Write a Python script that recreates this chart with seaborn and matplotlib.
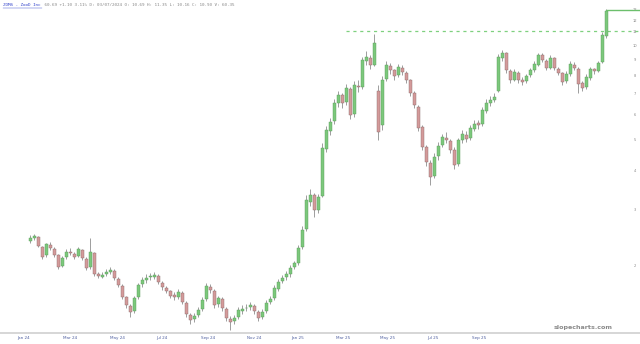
import numpy as np
import pandas as pd
import seaborn as sns
import matplotlib
matplotlib.use("Agg")
import matplotlib.pyplot as plt
from matplotlib.transforms import blended_transform_factory

# ---------------- data ----------------
opens = [2.40,2.45,2.47,2.30,2.16,2.33,2.27,2.16,2.00,2.13,
         2.22,2.19,2.15,2.25,2.11,1.98,2.20,1.88,1.85,1.88,
         1.91,1.93,1.82,1.73,1.59,1.49,1.44,1.59,1.75,1.80,
         1.84,1.85,1.86,1.77,1.70,1.66,1.62,1.59,1.64,1.53,
         1.40,1.36,1.40,1.46,1.57,1.72,1.67,1.51,1.57,1.46,
         1.36,1.34,1.38,1.44,1.47,1.48,1.49,1.43,1.38,1.44,
         1.54,1.58,1.69,1.79,1.84,1.88,1.98,2.05,2.30,2.62,
         3.20,3.35,3.02,3.33,4.70,5.35,5.75,6.55,6.95,6.60,
         7.30,6.05,7.45,7.40,8.95,9.15,8.70,7.20,5.60,7.85,
         8.60,8.35,8.05,8.50,8.20,7.75,7.05,6.40,5.50,4.75,
         4.25,3.85,4.45,4.82,5.10,4.98,4.65,4.20,5.00,5.22,
         5.08,5.45,5.66,5.62,6.22,6.55,6.70,7.20,9.10,9.45,
         8.30,7.80,8.20,7.80,7.70,8.05,8.35,8.70,9.30,8.95,
         8.50,9.10,8.45,8.18,7.70,8.10,8.70,8.45,7.60,7.38,
         7.90,8.40,8.32,8.85,10.7]
closes = [2.45,2.48,2.32,2.14,2.34,2.28,2.17,1.99,2.12,2.21,
          2.20,2.14,2.26,2.12,1.97,2.21,1.89,1.86,1.87,1.92,
          1.94,1.83,1.74,1.60,1.50,1.43,1.58,1.74,1.81,1.83,
          1.86,1.87,1.78,1.71,1.67,1.61,1.60,1.65,1.54,1.41,
          1.35,1.39,1.45,1.56,1.73,1.68,1.50,1.58,1.47,1.37,
          1.33,1.37,1.45,1.46,1.47,1.50,1.44,1.37,1.43,1.53,
          1.57,1.70,1.78,1.83,1.89,1.97,2.04,2.28,2.60,3.24,
          3.36,3.01,3.31,4.74,5.40,5.72,6.58,6.97,6.58,7.34,
          6.02,7.50,7.39,9.00,9.17,8.67,10.2,5.30,7.80,8.67,
          8.36,8.00,8.55,8.25,7.78,7.06,6.48,5.48,4.77,4.27,
          3.82,4.44,4.80,5.12,5.02,4.66,4.18,5.02,5.24,5.05,
          5.48,5.64,5.60,6.25,6.58,6.72,6.85,9.17,9.50,8.36,
          7.78,8.25,7.78,7.67,8.00,8.36,8.74,9.33,9.00,8.48,
          9.12,8.48,8.20,7.67,8.12,8.74,8.48,7.56,7.34,7.96,
          8.42,8.30,8.80,10.8,12.9]
highs = [2.50,2.53,2.49,2.32,2.37,2.38,2.30,2.18,2.15,2.26,
         2.28,2.22,2.30,2.27,2.13,2.45,2.22,1.92,1.91,1.96,
         1.99,1.95,1.84,1.75,1.61,1.51,1.61,1.77,1.85,1.88,
         1.90,1.92,1.88,1.79,1.73,1.68,1.65,1.69,1.66,1.55,
         1.42,1.42,1.48,1.59,1.76,1.75,1.69,1.61,1.59,1.48,
         1.39,1.40,1.48,1.50,1.51,1.54,1.52,1.45,1.46,1.56,
         1.61,1.74,1.82,1.87,1.93,2.01,2.08,2.33,2.68,3.35,
         3.50,3.40,3.38,4.90,5.55,5.90,6.75,7.20,7.05,7.55,
         7.40,7.70,7.80,9.20,9.60,9.30,10.9,7.50,8.00,8.90,
         8.80,8.45,8.75,8.65,8.30,7.85,7.15,6.50,5.60,4.85,
         4.35,4.55,4.95,5.25,5.30,5.05,4.75,5.10,5.40,5.35,
         5.60,5.80,5.80,6.40,6.75,6.90,7.05,9.40,9.70,9.55,
         8.45,8.40,8.30,7.95,8.15,8.50,8.90,9.50,9.45,9.05,
         9.30,9.20,8.55,8.25,8.30,8.90,8.85,8.55,7.70,8.10,
         8.55,8.50,8.95,11.0,13.1]
lows = [2.37,2.42,2.29,2.10,2.13,2.25,2.14,1.96,1.98,2.10,
        2.16,2.10,2.13,2.09,1.94,1.96,1.86,1.83,1.83,1.86,
        1.89,1.81,1.71,1.57,1.47,1.38,1.42,1.57,1.72,1.77,
        1.81,1.82,1.75,1.68,1.64,1.58,1.56,1.57,1.51,1.38,
        1.31,1.33,1.38,1.44,1.55,1.64,1.47,1.48,1.44,1.34,
        1.25,1.31,1.36,1.41,1.44,1.45,1.41,1.34,1.36,1.42,
        1.51,1.56,1.66,1.76,1.81,1.85,1.95,2.02,2.26,2.58,
        3.10,2.85,2.95,3.30,4.60,5.20,5.65,6.40,6.35,6.50,
        5.85,5.95,7.10,7.30,8.70,8.40,8.60,5.00,5.40,7.70,
        8.10,7.80,7.95,8.05,7.60,6.90,6.35,5.35,4.65,4.15,
        3.61,3.80,4.35,4.75,4.90,4.55,4.05,4.15,4.90,4.95,
        5.00,5.35,5.45,5.55,6.10,6.45,6.60,7.10,8.90,8.20,
        7.60,7.70,7.60,7.50,7.60,7.95,8.25,8.60,8.85,8.35,
        8.40,8.35,8.05,7.50,7.60,8.00,8.35,7.07,7.20,7.30,
        7.80,8.15,8.25,8.80,10.6]

y_ticks = [2, 3, 4, 5, 6, 7, 8, 9, 10, 11, 12, 13]
x_labels = ["Jan 24", "Mar 24", "May 24", "Jul 24", "Sep 24", "Nov 24",
            "Jan 25", "Mar 25", "May 25", "Jul 25", "Sep 25"]
x_label_idx = [-1.5, 10, 21.75, 33, 44.5, 56, 67, 78.25, 89.5, 100.75, 112.25]
prior_high = 11.15
prior_high_start = 79
last_price = 12.96
header_link = "ZOMS - ZooD Inc"
header_rest = " 60.69 +1.10 3.11% D: 03/07/2024 O: 10.69 H: 11.35 L: 10.16 C: 10.90 V: 60.35"

df = pd.DataFrame({"idx": np.arange(len(closes)), "open": opens, "high": highs,
                   "low": lows, "close": closes})

# ---------------- drawing ----------------
sns.set_theme(style="white")
plt.rcParams['font.family'] = ['DejaVu Sans']

fig = plt.figure(figsize=(6.4, 3.44), dpi=100)
ax = fig.add_axes([0, 11/344, 1, 333/344])

up = df["close"] >= df["open"]
green = "#7cc87c"
red = "#d49a9a"
edge = "#777777"

ax.vlines(df["idx"], df["low"], df["high"], color=edge, lw=0.5, zorder=2)
body_bottom = np.minimum(df["open"], df["close"])
body_h = np.abs(df["close"] - df["open"])
body_h = np.maximum(body_h, 0.004 * body_bottom)
ax.bar(df["idx"][up], body_h[up], bottom=body_bottom[up], width=0.75,
       color=green, edgecolor="#5a9a5a", linewidth=0.3, zorder=3)
ax.bar(df["idx"][~up], body_h[~up], bottom=body_bottom[~up], width=0.75,
       color=red, edgecolor="#8a6a6a", linewidth=0.3, zorder=3)

ax.set_yscale("log")

# last price line and prior-high dashed line
last_df = pd.DataFrame({"x": [len(closes) - 1, 153], "y": [last_price, last_price]})
sns.lineplot(data=last_df, x="x", y="y", ax=ax, color="#6cbf6c", lw=1.0, zorder=4)
ax.plot([prior_high_start, 153], [prior_high, prior_high], color="#7fd07f", lw=0.9,
        dashes=(2.5, 3.0), zorder=1)

ax.set_xlim(-7.5, 152.5)
ax.set_ylim(1.226, 13.94)

# axes styling
for s in ["top", "left", "right"]:
    ax.spines[s].set_visible(False)
ax.spines["bottom"].set_color("#cfcfcf")
ax.spines["bottom"].set_linewidth(1.2)
ax.set_xlabel("")
ax.set_ylabel("")
ax.set_yticks([])
ax.minorticks_off()
ax.yaxis.set_minor_locator(matplotlib.ticker.NullLocator())
ax.set_xticks(x_label_idx)
ax.set_xticklabels(x_labels, fontsize=3, color="#5060a0")
ax.tick_params(axis="x", length=0, pad=2)

trans = blended_transform_factory(ax.transAxes, ax.transData)
for v in y_ticks:
    ax.text(0.9925, v, str(v), transform=trans, fontsize=2.6, color="#888888",
            ha="center", va="center")

# header
fig.text(3/640, 1 - 5/344, header_link, fontsize=3.1, family="DejaVu Sans Mono",
         color="#3344cc", va="center", ha="left")
fig.text(3/640 + 15*2.6/640, 1 - 5/344, header_rest, fontsize=3.1,
         family="DejaVu Sans Mono", color="#888888", va="center", ha="left")
fig.add_artist(plt.Line2D([3/640, 42/640], [1 - 8/344, 1 - 8/344], color="#3344cc", lw=0.3))

# watermark
fig.text(583/640, 1 - 328/344, "slopecharts.com", fontsize=4.6, fontweight="bold",
         color="#8a8a8a", ha="center", va="center")

fig.savefig("out.png", dpi=100)
